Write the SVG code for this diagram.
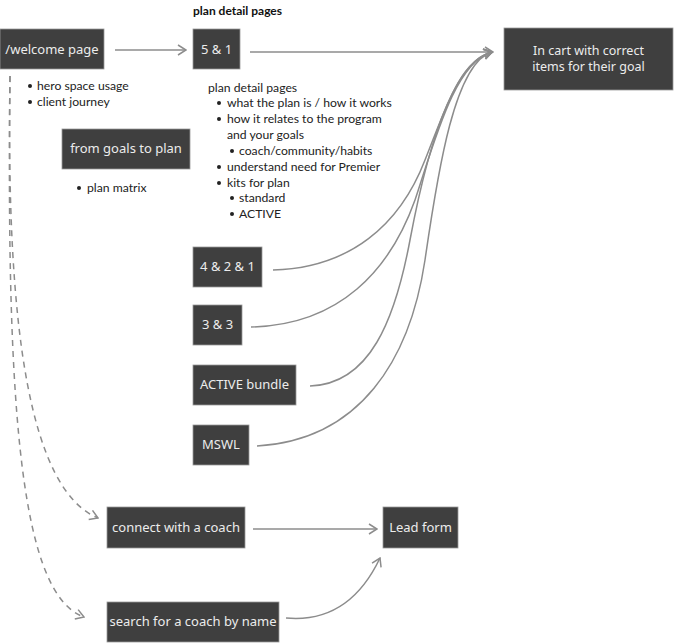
<svg xmlns="http://www.w3.org/2000/svg" width="683" height="643" viewBox="0 0 683 643">
<defs>
<style>
.box{fill:#3f3f3f;stroke:#9a9a9a;stroke-width:0.8}
.bt{font-family:"Noto Sans","Liberation Sans",sans-serif;font-size:13px;fill:#ececec;text-anchor:middle}
.bt2{font-family:"Noto Sans","Liberation Sans",sans-serif;font-size:12.5px;fill:#ececec;text-anchor:middle}
.tx{font-family:Lato,"Liberation Sans",sans-serif;font-size:12.2px;fill:#222}
.ttl{font-family:Lato,"Liberation Sans",sans-serif;font-size:12px;font-weight:bold;fill:#111}
.dot{fill:#222}
.ln{fill:none;stroke:#8c8c8c;stroke-width:1.5}
.dash{stroke-dasharray:6 5}
</style>
<marker id="arr" viewBox="0 0 10 12" refX="9" refY="6" markerWidth="10" markerHeight="12" markerUnits="userSpaceOnUse" orient="auto">
<path d="M1,1 L9,6 L1,11" fill="none" stroke="#8c8c8c" stroke-width="1.5"/>
</marker>
</defs>
<rect width="683" height="643" fill="#fff"/>

<text class="ttl" x="193" y="15">plan detail pages</text>

<g id="connectors">
<path class="ln" d="M115,50 L186,50" marker-end="url(#arr)"/>
<path class="ln" d="M250,52 L493,52" marker-end="url(#arr)"/>
<path class="ln" d="M273,270 C350,268 400,225 425,160 C445,110 460,60 492,52" marker-end="url(#arr)"/>
<path class="ln" d="M251,327 C340,325 390,270 415,200 C435,140 455,62 492,52" marker-end="url(#arr)"/>
<path class="ln" d="M310,386 C370,384 395,320 410,240 C425,160 450,62 492,52" marker-end="url(#arr)"/>
<path class="ln" d="M257,446 C360,440 410,360 425,260 C438,170 455,62 492,52" marker-end="url(#arr)"/>
<path class="ln dash" d="M10,76 C6,330 30,490 98,518" marker-end="url(#arr)"/>
<path class="ln dash" d="M10,76 C6,420 22,595 84,617" marker-end="url(#arr)"/>
<path class="ln" d="M253,529 L377,529" marker-end="url(#arr)"/>
<path class="ln" d="M286,618 C330,622 360,600 380,558" marker-end="url(#arr)"/>
</g>

<g id="welcome"><rect class="box" x="0" y="29" width="104" height="40"/><text class="bt" x="52" y="54">/welcome page</text></g>
<g id="welcome-notes">
<circle class="dot" cx="30" cy="86" r="2"/><text class="tx" x="37" y="90">hero space usage</text>
<circle class="dot" cx="30" cy="102" r="2"/><text class="tx" x="37" y="106">client journey</text>
</g>
<g id="plan51"><rect class="box" x="193" y="29" width="47" height="40"/><text class="bt" x="216.5" y="54">5 &amp; 1</text></g>
<g id="cart"><rect class="box" x="504" y="28" width="169" height="62"/><text class="bt2" x="588.5" y="55">In cart with correct</text><text class="bt2" x="588.5" y="71">items for their goal</text></g>
<g id="goals"><rect class="box" x="62" y="129" width="128" height="40"/><text class="bt" x="126" y="153">from goals to plan</text></g>
<g id="goals-notes"><circle class="dot" cx="79" cy="188" r="2"/><text class="tx" x="87" y="192">plan matrix</text></g>
<g id="plan-notes">
<text class="tx" x="208" y="92">plan detail pages</text>
<circle class="dot" cx="219" cy="103" r="2"/><text class="tx" x="227" y="107">what the plan is / how it works</text>
<circle class="dot" cx="219" cy="119" r="2"/><text class="tx" x="227" y="123">how it relates to the program</text>
<text class="tx" x="227" y="139">and your goals</text>
<circle class="dot" cx="232" cy="151" r="2"/><text class="tx" x="239" y="155">coach/community/habits</text>
<circle class="dot" cx="219" cy="167" r="2"/><text class="tx" x="227" y="171">understand need for Premier</text>
<circle class="dot" cx="219" cy="183" r="2"/><text class="tx" x="227" y="187">kits for plan</text>
<circle class="dot" cx="232" cy="198" r="2"/><text class="tx" x="239" y="202">standard</text>
<circle class="dot" cx="232" cy="214" r="2"/><text class="tx" x="239" y="218">ACTIVE</text>
</g>
<g id="plan421"><rect class="box" x="193" y="247" width="69" height="40"/><text class="bt" x="227.5" y="271">4 &amp; 2 &amp; 1</text></g>
<g id="plan33"><rect class="box" x="193" y="305" width="49" height="40"/><text class="bt" x="217.5" y="329">3 &amp; 3</text></g>
<g id="active"><rect class="box" x="193" y="365" width="103" height="40"/><text class="bt" x="244.5" y="389">ACTIVE bundle</text></g>
<g id="mswl"><rect class="box" x="193" y="425" width="56" height="40"/><text class="bt" x="221" y="449">MSWL</text></g>
<g id="connect"><rect class="box" x="107" y="507" width="138" height="41"/><text class="bt" x="176" y="532">connect with a coach</text></g>
<g id="lead"><rect class="box" x="383" y="507" width="75" height="41"/><text class="bt" x="420.5" y="532">Lead form</text></g>
<g id="search"><rect class="box" x="107" y="602" width="172" height="40"/><text class="bt" x="193" y="626">search for a coach by name</text></g>
</svg>
